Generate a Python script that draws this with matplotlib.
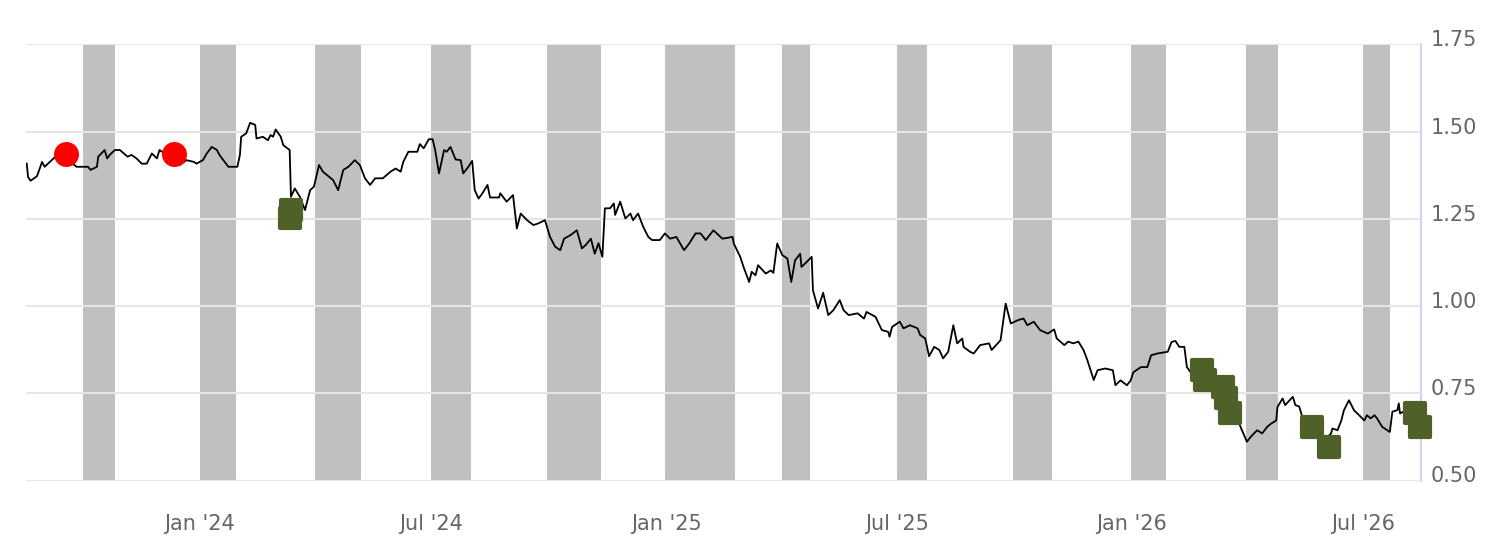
import datetime as dt
import numpy as np
import matplotlib
matplotlib.use('Agg')
import matplotlib.pyplot as plt
import matplotlib.dates as mdates
from matplotlib.markers import MarkerStyle
from matplotlib.transforms import ScaledTranslation

# days counted from 2024-01-01
day = [-135, -134, -132, -127, -123, -121, -114, -109, -96, -87, -85, -80, -79, -74, -72, -70,
       -66, -62, -56, -53, -49, -45, -41, -37, -33, -31, -24, -15, -10, -4, -2, 3,
       6, 10, 14, 16, 19, 23, 30, 32, 33, 37, 40, 44, 45, 50, 54, 56,
       58, 60, 64, 66, 71, 72, 75, 79, 83, 87, 90, 94, 97, 105, 109, 113,
       117, 122, 126, 130, 134, 138, 144, 150, 154, 158, 160, 164, 171, 173, 176, 180,
       183, 185, 188, 192, 194, 197, 201, 205, 207, 211, 214, 216, 219, 222, 226, 228,
       235, 236, 241, 246, 249, 252, 257, 262, 266, 271, 275, 279, 283, 286, 291, 296,
       300, 303, 307, 310, 313, 316, 318, 322, 325, 326, 330, 334, 338, 340, 344, 348,
       352, 355, 361, 365, 369, 374, 380, 384, 389, 393, 397, 403, 410, 418, 419, 424,
       427, 431, 433, 436, 438, 444, 448, 450, 453, 457, 461, 464, 467, 471, 472, 476,
       480, 481, 485, 489, 493, 497, 502, 505, 509, 516, 521, 523, 530, 535, 540, 541,
       543, 549, 552, 557, 563, 565, 569, 572, 576, 580, 583, 587, 591, 594, 598, 599,
       604, 607, 612, 619, 621, 628, 632, 636, 642, 646, 649, 654, 659, 665, 670, 672,
       678, 681, 685, 689, 693, 696, 701, 704, 710, 716, 718, 722, 727, 730, 732, 738,
       743, 746, 751, 759, 762, 765, 768, 772, 774, 777, 789, 800, 812, 816, 821, 824,
       829, 833, 837, 840, 844, 845, 849, 851, 857, 859, 862, 864, 872, 883, 887, 888,
       892, 895, 897, 901, 905, 909, 913, 915, 918, 921, 923, 927, 931, 933, 935, 939,
       940, 941, 945, 949]
price = [1.408, 1.370, 1.359, 1.372, 1.413, 1.399, 1.423, 1.437, 1.399, 1.399, 1.390, 1.399, 1.428, 1.447, 1.423, 1.433,
         1.447, 1.447, 1.428, 1.433, 1.423, 1.408, 1.408, 1.437, 1.423, 1.447, 1.430, 1.404, 1.418, 1.413, 1.408, 1.418,
         1.437, 1.456, 1.447, 1.433, 1.418, 1.399, 1.399, 1.433, 1.485, 1.495, 1.525, 1.519, 1.480, 1.485, 1.475, 1.490,
         1.485, 1.506, 1.485, 1.461, 1.447, 1.313, 1.337, 1.313, 1.275, 1.332, 1.342, 1.404, 1.385, 1.361, 1.332, 1.390,
         1.399, 1.418, 1.404, 1.366, 1.347, 1.366, 1.366, 1.385, 1.394, 1.385, 1.413, 1.442, 1.442, 1.464, 1.452, 1.478,
         1.478, 1.447, 1.380, 1.447, 1.442, 1.456, 1.420, 1.418, 1.380, 1.399, 1.416, 1.332, 1.308, 1.323, 1.347, 1.311,
         1.311, 1.323, 1.299, 1.318, 1.222, 1.265, 1.246, 1.232, 1.237, 1.246, 1.198, 1.170, 1.160, 1.193, 1.203, 1.217,
         1.165, 1.175, 1.193, 1.150, 1.180, 1.141, 1.280, 1.280, 1.294, 1.261, 1.299, 1.251, 1.265, 1.246, 1.265, 1.227,
         1.198, 1.189, 1.189, 1.208, 1.193, 1.198, 1.160, 1.179, 1.208, 1.208, 1.189, 1.217, 1.193, 1.198, 1.179, 1.141,
         1.108, 1.069, 1.098, 1.088, 1.117, 1.093, 1.102, 1.095, 1.179, 1.146, 1.136, 1.069, 1.131, 1.150, 1.112, 1.126,
         1.141, 1.045, 0.993, 1.038, 0.974, 0.988, 1.017, 0.988, 0.974, 0.979, 0.964, 0.983, 0.969, 0.931, 0.926, 0.912,
         0.940, 0.955, 0.936, 0.945, 0.936, 0.917, 0.907, 0.856, 0.883, 0.874, 0.850, 0.869, 0.945, 0.893, 0.907, 0.883,
         0.869, 0.864, 0.888, 0.893, 0.874, 0.902, 1.007, 0.950, 0.960, 0.964, 0.945, 0.955, 0.931, 0.921, 0.933, 0.907,
         0.888, 0.898, 0.893, 0.898, 0.874, 0.845, 0.788, 0.816, 0.821, 0.816, 0.773, 0.787, 0.773, 0.787, 0.810, 0.825,
         0.825, 0.859, 0.864, 0.869, 0.897, 0.900, 0.883, 0.883, 0.825, 0.810, 0.790, 0.750, 0.690, 0.654, 0.611, 0.625,
         0.644, 0.635, 0.654, 0.663, 0.672, 0.711, 0.735, 0.716, 0.740, 0.716, 0.712, 0.687, 0.660, 0.620, 0.635, 0.649,
         0.644, 0.672, 0.701, 0.730, 0.701, 0.687, 0.672, 0.687, 0.678, 0.687, 0.678, 0.654, 0.644, 0.639, 0.697, 0.702,
         0.721, 0.692, 0.700, 0.690]

# red circle signals
red_day = [-104, -20]
red_val = [1.437, 1.437]

# green square signals
green_day = [71, 72, 786, 788, 802, 805, 808, 872, 885, 953, 957]
green_val = [1.252, 1.275, 0.816, 0.787, 0.768, 0.735, 0.692, 0.654, 0.596, 0.692, 0.654]

# shaded periods
band_start = ['2023-10-02', '2024-01-02', '2024-04-01', '2024-07-01', '2024-09-30', '2024-12-31',
              '2025-04-02', '2025-07-01', '2025-09-30', '2025-12-31', '2026-03-31', '2026-07-01']
band_end = ['2023-10-27', '2024-01-30', '2024-05-07', '2024-08-01', '2024-11-11', '2025-02-24',
            '2025-04-24', '2025-07-24', '2025-10-30', '2026-01-28', '2026-04-25', '2026-07-22']

tick_dates = ['2024-01-01', '2024-07-01', '2025-01-01', '2025-07-01', '2026-01-01', '2026-07-01']
tick_labels = ["Jan '24", "Jul '24", "Jan '25", "Jul '25", "Jan '26", "Jul '26"]
y_ticks = [0.50, 0.75, 1.00, 1.25, 1.50, 1.75]

base = dt.datetime(2024, 1, 1)
to_date = lambda d: base + dt.timedelta(days=d)
dates = [to_date(d) for d in day]

fig = plt.figure(figsize=(14.94, 5.52), dpi=100)
ax = fig.add_axes([26 / 1494, 1 - 480.5 / 552, (1420.7 - 26) / 1494, (480.5 - 44.3) / 552])

for s, e in zip(band_start, band_end):
    ax.axvspan(dt.datetime.fromisoformat(s), dt.datetime.fromisoformat(e),
               color='#c0c0c0', lw=0, zorder=0)

ax.plot(dates, price, color='black', lw=1.3, zorder=3)

ax.plot([to_date(d) for d in red_day], red_val, 'o', color='#ff0000', ms=18, mew=0,
        zorder=4, clip_on=False)
sq = MarkerStyle('s', joinstyle='round')
ax.plot([to_date(d) for d in green_day], green_val, ls='none', marker=sq, color='#4f6128',
        ms=15, mew=3, mec='#4f6128', zorder=4, clip_on=False)

ax.set_xlim(to_date(-135.6), to_date(957.2))
ax.set_ylim(0.5, 1.75)

ax.set_xticks([dt.datetime.fromisoformat(t) for t in tick_dates])
ax.set_xticklabels(tick_labels)
ax.set_yticks(y_ticks)
ax.set_yticklabels(['%.2f' % v for v in y_ticks])
ax.yaxis.tick_right()

ax.grid(axis='y', color='#e6e6e6', lw=1.5, zorder=1)
ax.set_axisbelow(False)
for side in ['left', 'top', 'bottom']:
    ax.spines[side].set_visible(False)
ax.spines['right'].set_color('#ccd6eb')
ax.spines['right'].set_linewidth(1.5)
ax.spines['right'].set_zorder(1)

ax.tick_params(axis='x', length=0, pad=24, labelsize=15, labelcolor='#666666')
ax.tick_params(axis='y', length=0, pad=7, labelsize=15, labelcolor='#666666')
for lab in ax.get_yticklabels():
    lab.set_transform(lab.get_transform() + ScaledTranslation(0, 0.06, fig.dpi_scale_trans))

fig.savefig('out.png', dpi=100, facecolor='white')
